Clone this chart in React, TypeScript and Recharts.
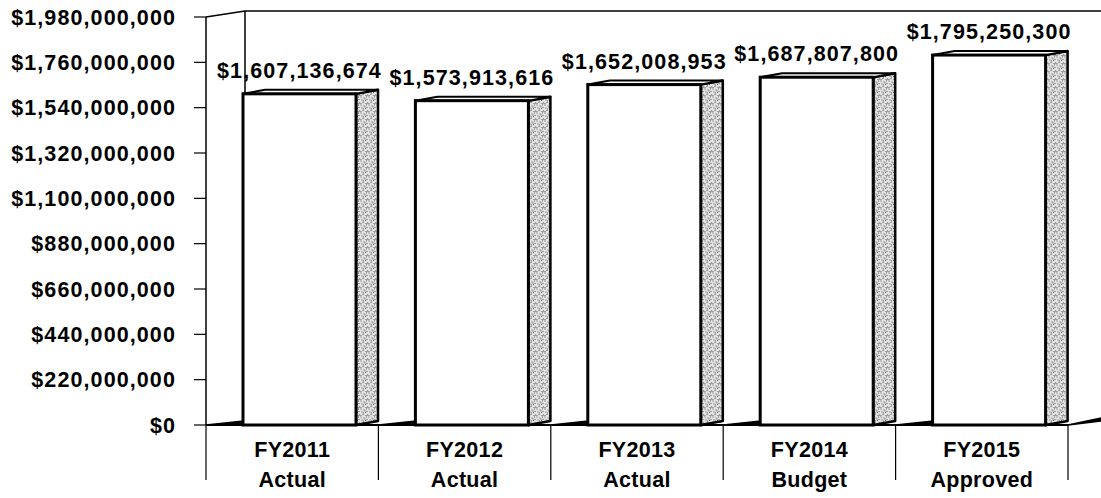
import { BarChart, Bar, XAxis, YAxis, LabelList, usePlotArea } from 'recharts'

const years = ['FY2011', 'FY2012', 'FY2013', 'FY2014', 'FY2015']
const stages = ['Actual', 'Actual', 'Actual', 'Budget', 'Approved']
const amounts = [1607136674, 1573913616, 1652008953, 1687807800, 1795250300]
const yTicks = [0, 220000000, 440000000, 660000000, 880000000, 1100000000, 1320000000, 1540000000, 1760000000, 1980000000]

const data = years.map((year, i) => ({ year, stage: stages[i], amount: amounts[i] }))

const FONT = '"Liberation Sans", Arial, Helvetica, sans-serif'
const FRONT = 113
const DEPTH_X = 22
const DEPTH_Y = 4
const SHIFT = 18

const money = (v: number) => '$' + v.toLocaleString('en-US')

// stipple for the bar side faces
const DOTS = [
  [0.5, 0.5], [3.5, 1.5], [6, 0.5], [1.5, 3.5], [5, 4], [2.5, 6], [7, 6.5], [0.5, 7], [4.5, 2.5], [6.5, 3], [3, 4.5], [5.5, 7],
]

const Wall = () => {
  const pa = usePlotArea()
  if (!pa) return null
  const { x, y, width, height } = pa
  const bx = x + 39
  const by = y - 6
  const right = x + width
  const bottom = y + height
  return (
    <g>
      <defs>
        <pattern id="stip" width="8" height="8" patternUnits="userSpaceOnUse">
          <rect width="8" height="8" fill="#e2e2e2" />
          {DOTS.map(([dx, dy], i) => (
            <rect key={i} x={dx} y={dy} width="1" height="1" fill="#5a5a5a" />
          ))}
        </pattern>
      </defs>
      <line x1={x} y1={y} x2={bx} y2={by} stroke="#000" strokeWidth={1.5} />
      <line x1={bx} y1={by} x2={right + 40} y2={by} stroke="#000" strokeWidth={1.5} />
      <line x1={bx} y1={by} x2={bx} y2={bottom - 6} stroke="#000" strokeWidth={1.5} />
      <polygon points={`${right},${bottom} ${right + 33},${bottom - 7} ${right + 33},${bottom - 4}`} fill="#000" stroke="#000" strokeWidth={1.5} />
    </g>
  )
}

const Bar3D = (props: any) => {
  const { x, y, height } = props
  const fl = x + SHIFT
  const fr = fl + FRONT
  const top = y
  const bottom = y + height
  return (
    <g>
      <polygon points={`${fl - 37},${bottom} ${fl},${bottom - DEPTH_Y} ${fl},${bottom}`} fill="#000" stroke="#000" strokeWidth={1.5} />
      <polygon
        points={`${fr},${top} ${fr + DEPTH_X},${top - DEPTH_Y} ${fr + DEPTH_X},${bottom - DEPTH_Y} ${fr},${bottom}`}
        fill="url(#stip)"
        stroke="#000"
        strokeWidth={2.5}
        strokeLinejoin="round"
      />
      <polygon
        points={`${fl},${top} ${fl + DEPTH_X},${top - DEPTH_Y} ${fr + DEPTH_X},${top - DEPTH_Y} ${fr},${top}`}
        fill="#fff"
        stroke="#000"
        strokeWidth={2}
        strokeLinejoin="round"
      />
      <rect x={fl} y={top} width={FRONT} height={height} fill="#fff" stroke="#000" strokeWidth={3} />
    </g>
  )
}

const ValueLabel = (props: any) => {
  const { x, y, value } = props
  return (
    <text
      x={x + SHIFT + FRONT / 2}
      y={y - 16}
      textAnchor="middle"
      fontFamily={FONT}
      fontWeight={700}
      fontSize={21.5}
      letterSpacing={1.1}
      fill="#000"
    >
      {money(value)}
    </text>
  )
}

const YTick = ({ x, y, payload }: any) => (
  <text x={x} y={y} dy="0.36em" textAnchor="end" fontFamily={FONT} fontWeight={700} fontSize={21.5} letterSpacing={1.1} fill="#000">
    {money(payload.value)}
  </text>
)

const XTick = ({ x, y, payload, index }: any) => {
  const half = payload?.offset || 86
  const i = index ?? years.indexOf(payload.value)
  return (
    <g>
      <line x1={x - half} y1={y} x2={x - half} y2={y + 55} stroke="#000" strokeWidth={1.2} />
      {i === years.length - 1 && <line x1={x + half} y1={y} x2={x + half} y2={y + 55} stroke="#000" strokeWidth={1.2} />}
      <text x={x} y={y + 32} textAnchor="middle" fontFamily={FONT} fontWeight={700} fontSize={21.5} letterSpacing={0.3} fill="#000">
        {payload.value}
      </text>
      <text x={x} y={y + 62} textAnchor="middle" fontFamily={FONT} fontWeight={700} fontSize={21.5} letterSpacing={0.3} fill="#000">
        {stages[i]}
      </text>
    </g>
  )
}

export default function App() {
  return (
    <div style={{ position: 'absolute', left: 0, top: 0, background: '#fff' }}>
      <BarChart width={1101} height={498} data={data} margin={{ top: 17, right: 33, bottom: 0, left: 0 }}>
        <Wall />
        <XAxis
          dataKey="year"
          height={73}
          tickLine={false}
          tickSize={0}
          tickMargin={0}
          axisLine={{ stroke: '#000', strokeWidth: 2 }}
          tick={<XTick />}
          interval={0}
        />
        <YAxis
          width={206}
          domain={[0, 1980000000]}
          ticks={yTicks}
          interval={0}
          tickSize={12}
          tickMargin={18}
          tickLine={{ stroke: '#000', strokeWidth: 1.2 }}
          axisLine={{ stroke: '#000', strokeWidth: 1.5 }}
          tick={<YTick />}
        />
        <Bar dataKey="amount" barSize={135} shape={<Bar3D />} isAnimationActive={false}>
          <LabelList dataKey="amount" content={<ValueLabel />} />
        </Bar>
      </BarChart>
    </div>
  )
}
